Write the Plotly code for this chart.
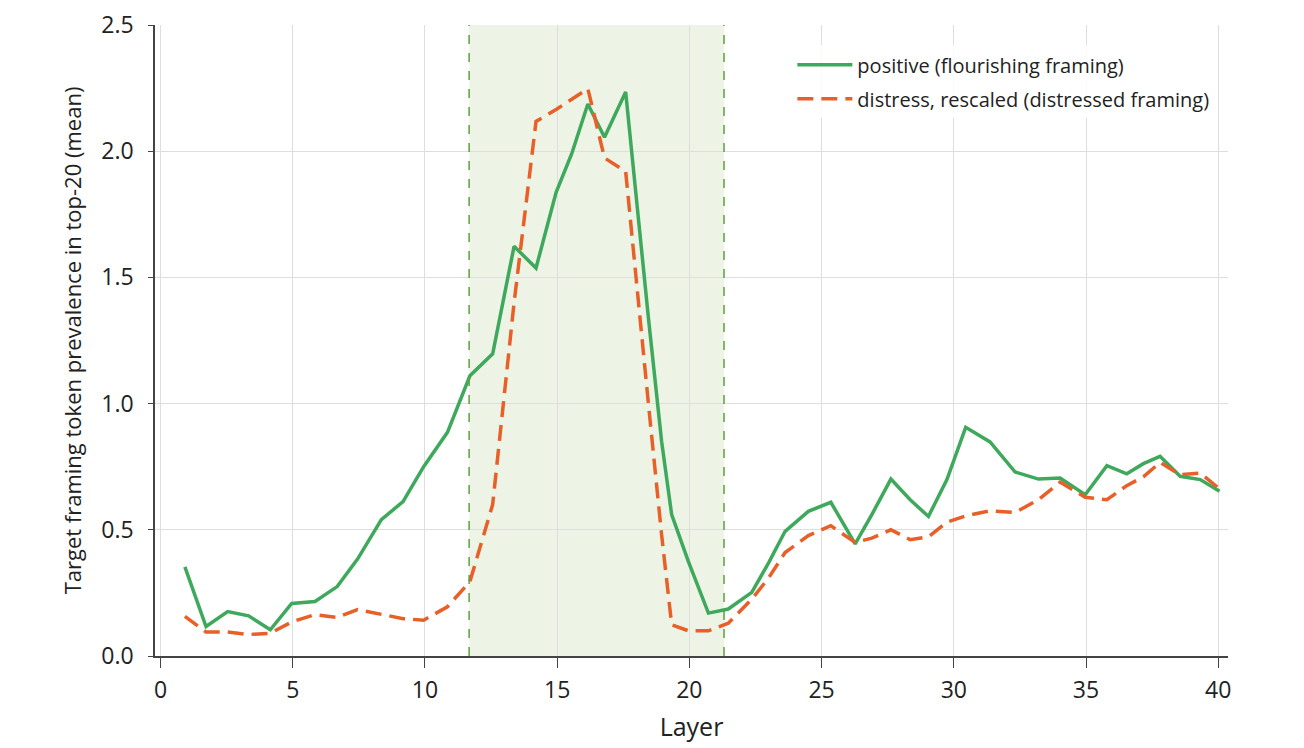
import plotly.graph_objects as go

# layer positions (as drawn) and the two series
layers = [0.92, 1.72, 2.54, 3.33, 4.15, 4.96, 5.84, 6.68, 7.45, 8.35, 9.17, 9.95,
          10.85, 11.7, 12.56, 13.37, 14.2, 14.96, 15.55, 16.16, 16.79, 17.59, 18.45,
          18.95, 19.33, 19.96, 20.72, 21.47, 22.36, 23.0, 23.62, 24.5, 25.35, 26.27,
          26.9, 27.62, 28.35, 29.04, 29.74, 30.45, 31.37, 32.32, 33.2, 34.02, 34.97,
          35.79, 36.54, 37.17, 37.8, 38.56, 39.32, 40.05]

positive = [0.353, 0.117, 0.176, 0.159, 0.104, 0.208, 0.216, 0.275, 0.384, 0.54, 0.612,
            0.75, 0.886, 1.11, 1.197, 1.623, 1.537, 1.837, 1.99, 2.187, 2.055, 2.235,
            1.34, 0.85, 0.56, 0.375, 0.17, 0.186, 0.252, 0.37, 0.494, 0.573, 0.609,
            0.444, 0.56, 0.701, 0.619, 0.553, 0.699, 0.906, 0.848, 0.729, 0.701, 0.705,
            0.639, 0.754, 0.722, 0.762, 0.791, 0.712, 0.699, 0.653]

distress = [0.157, 0.095, 0.095, 0.085, 0.09, 0.135, 0.164, 0.153, 0.184, 0.164, 0.148,
            0.142, 0.195, 0.295, 0.6, 1.4, 2.118, 2.165, 2.205, 2.248, 1.973, 1.92,
            1.0, 0.48, 0.124, 0.1, 0.1, 0.13, 0.225, 0.31, 0.41, 0.477, 0.516, 0.45,
            0.467, 0.5, 0.461, 0.472, 0.53, 0.555, 0.575, 0.569, 0.619, 0.689, 0.629,
            0.619, 0.675, 0.71, 0.767, 0.718, 0.725, 0.662]

band_start = 11.67
band_end = 21.31

GREEN = "#3ea95c"
ORANGE = "#e85f28"
FONT = "Open Sans"

fig = go.Figure()

fig.add_trace(go.Scatter(
    x=layers, y=positive, mode="lines",
    name="positive (flourishing framing)", legendgroup="pos",
    line=dict(color=GREEN, width=3.5),
))
fig.add_trace(go.Scatter(
    x=layers, y=distress, mode="lines",
    name="distress, rescaled (distressed framing)", legendgroup="dis",
    line=dict(color=ORANGE, width=3.5, dash="16px,8px"),
))

# highlighted layer band
fig.add_vrect(x0=band_start, x1=band_end, fillcolor="rgba(140,185,95,0.16)",
              line_width=0, layer="below")
for xv in (band_start, band_end):
    fig.add_vline(x=xv, line=dict(color="#5f9f3f", width=1.5, dash="dash"))

fig.update_layout(
    width=1304, height=748,
    margin=dict(l=147, r=84, t=17, b=100, autoexpand=False),
    paper_bgcolor="white", plot_bgcolor="white",
    font=dict(family=FONT, size=21, color="#222"),
    legend=dict(x=0.594, y=0.968, xanchor="left", yanchor="top",
                bgcolor="rgba(255,255,255,0.85)", font=dict(size=20),
                itemwidth=55, tracegroupgap=5),
    xaxis=dict(
        range=[-0.21, 40.37], tickvals=[0, 5, 10, 15, 20, 25, 30, 35, 40],
        tickfont=dict(size=23), ticklabelstandoff=3, automargin=False,
        showgrid=True, gridcolor="#dedede", gridwidth=1, zeroline=False,
        showline=True, linecolor="#444", linewidth=1.5,
        ticks="outside", ticklen=10, tickcolor="#444",
        title=dict(text="Layer", standoff=14),
    ),
    yaxis=dict(
        range=[0, 2.5], tickvals=[0, 0.5, 1.0, 1.5, 2.0, 2.5], tickformat=".1f",
        tickfont=dict(size=23), ticklabeloverflow="allow", ticklabelstandoff=10,
        automargin=False,
        showgrid=True, gridcolor="#dedede", gridwidth=1, zeroline=False,
        showline=True, linecolor="#444", linewidth=1.5,
        ticks="outside", ticklen=5, tickcolor="#444",
        title=dict(text="Target framing token prevalence in top-20 (mean)",
                   font=dict(size=22), standoff=14),
    ),
)

fig.write_html("out.html")
